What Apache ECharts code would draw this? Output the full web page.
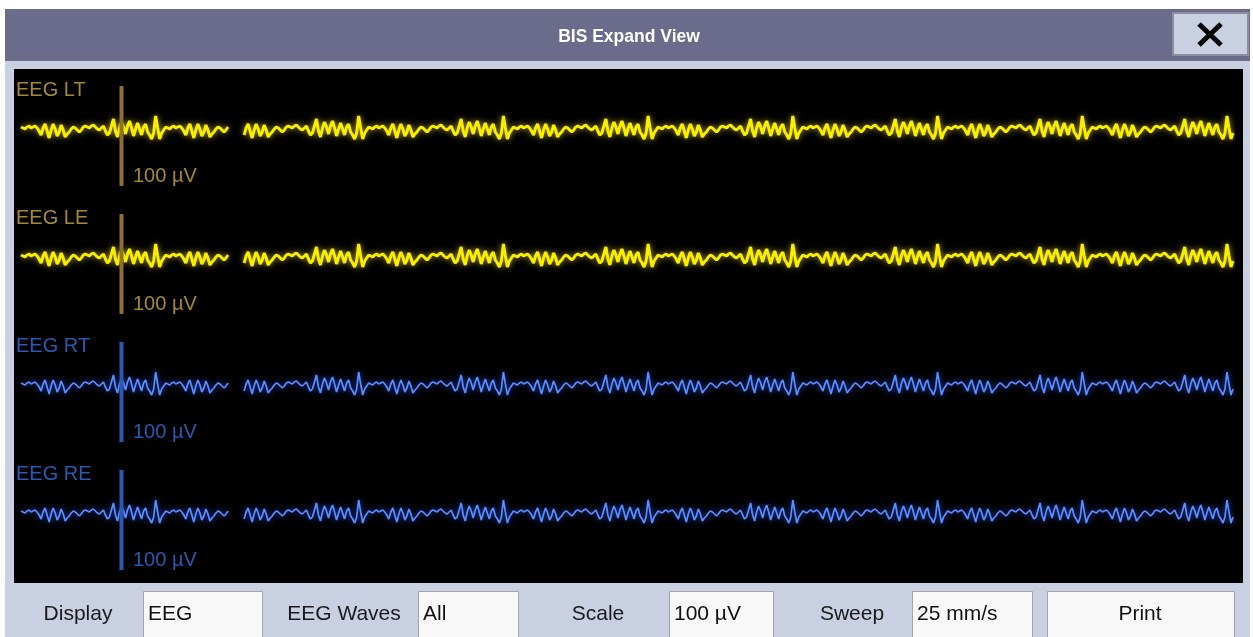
<!DOCTYPE html>
<html>
<head>
<meta charset="utf-8">
<title>BIS Expand View</title>
<script src="https://cdn.jsdelivr.net/npm/echarts@6/dist/echarts.min.js"></script>
<style>
  html, body { margin: 0; padding: 0; background: #fff; overflow: hidden; }
  #main { width: 1253px; height: 637px; }
</style>
</head>
<body>
<div id="main"></div>
<script>
// channels, top to bottom
var channelNames = ['EEG LT', 'EEG LE', 'EEG RT', 'EEG RE'];
var channelColors = ['yellow', 'yellow', 'blue', 'blue'];
var scaleText = '100 µV';

// EEG trace in µV, one sample every ~2 px.
// newest part of the sweep (left of the erase gap)
var sweepNew = [
  3,2,1,3,4,
  2,3,4,2,-1,-5,2,6,-1,-8,0,6,1,-6,-2,5,0,-7,-4,-2,1,3,2,0,-2,0,3,4,3,2,4,5,3,1,0,2,4,-1,-5,-3,4,11,-1,-7,2,8,3,-4,4,9,2,-6,1,7,1,-5,3,6,-2,-5,-9,-3,
  14,2,-9,-3,0,3,2,1,3,4,2,3,4,2,-1,-5,2,6,-1,-8,0,6,1,-6,-2,5,0,-7,-4,-2,1,3,2,0,-2,0,3
];
var gapSamples = 7;
// older part of the sweep (right of the erase gap)
var sweepOld = [
  -5,2,6,-1,-8,
  0,6,1,-6,-2,5,0,-7,-4,-2,1,3,2,0,-2,0,3,4,3,2,4,5,3,1,0,2,4,-1,-5,-3,4,11,-1,-7,2,8,3,-4,4,9,2,-6,1,7,1,-5,3,6,-2,-5,-9,-3,
  14,2,-9,-3,0,3,2,1,3,4,2,3,4,2,-1,-5,2,6,-1,-8,0,6,1,-6,-2,5,0,-7,-4,-2,1,3,2,0,-2,0,3,4,3,2,4,5,3,1,0,2,4,-1,-5,-3,4,11,-1,-7,2,8,3,-4,4,9,2,-6,1,7,1,-5,3,6,-2,-5,-9,-3,
  14,2,-9,-3,0,3,2,1,3,4,2,3,4,2,-1,-5,2,6,-1,-8,0,6,1,-6,-2,5,0,-7,-4,-2,1,3,2,0,-2,0,3,4,3,2,4,5,3,1,0,2,4,-1,-5,-3,4,11,-1,-7,2,8,3,-4,4,9,2,-6,1,7,1,-5,3,6,-2,-5,-9,-3,
  14,2,-9,-3,0,3,2,1,3,4,2,3,4,2,-1,-5,2,6,-1,-8,0,6,1,-6,-2,5,0,-7,-4,-2,1,3,2,0,-2,0,3,4,3,2,4,5,3,1,0,2,4,-1,-5,-3,4,11,-1,-7,2,8,3,-4,4,9,2,-6,1,7,1,-5,3,6,-2,-5,-9,-3,
  14,2,-9,-3,0,3,2,1,3,4,2,3,4,2,-1,-5,2,6,-1,-8,0,6,1,-6,-2,5,0,-7,-4,-2,1,3,2,0,-2,0,3,4,3,2,4,5,3,1,0,2,4,-1,-5,-3,4,11,-1,-7,2,8,3,-4,4,9,2,-6,1,7,1,-5,3,6,-2,-5,-9,-3,
  14,2,-9,-3,0,3,2,1,3,4,2,3,4,2,-1,-5,2,6,-1,-8,0,6,1,-6,-2,5,0,-7,-4,-2,1,3,2,0,-2,0,3,4,3,2,4,5,3,1,0,2,4,-1,-5,-3,4,11,-1,-7,2,8,3,-4,4,9,2,-6,1,7,1,-5,3,6,-2,-5,-9,-3,
  14,2,-9,-3,0,3,2,1,3,4,2,3,4,2,-1,-5,2,6,-1,-8,0,6,1,-6,-2,5,0,-7,-4,-2,1,3,2,0,-2,0,3,4,3,2,4,5,3,1,0,2,4,-1,-5,-3,4,11,-1,-7,2,8,3,-4,4,9,2,-6,1,7,1,-5,3,6,-2,-5,-9,-3,
  14,2,-9,-3
];
// 100 µV calibration bar: sample position and µV span
var barSample = 50;
var barSpan = [44, -56];

// bottom control row
var controlLabels = ['Display', 'EEG Waves', 'Scale', 'Sweep'];
var controlValues = ['EEG', 'All', '100 µV', '25 mm/s'];
var printText = 'Print';

var palette = {
  yellow: { wave: '#f8ee00', glow: '#b09c00', label: '#a3883a', bar: '#8e702c', width: 3 },
  blue: { wave: '#5d8eff', glow: '#1c44c4', label: '#2b59b0', bar: '#2c59b2', width: 1.7 }
};
var FONT = '"Liberation Sans", Arial, sans-serif';

// build the trace as [sample, µV] pairs with a break for the erase gap
var trace = [];
var n = 0;
sweepNew.forEach(function (v) { trace.push([n++, v]); });
for (var g = 0; g < gapSamples; g++) { trace.push([n++, null]); }
sweepOld.forEach(function (v) { trace.push([n++, v]); });
var lastSample = n - 1;

var grids = [], xAxes = [], yAxes = [], series = [], graphics = [];

function txt(text, x, y, size, color, align, weight) {
  return {
    type: 'text', z: 10, silent: true,
    style: {
      text: text, x: x, y: y, fill: color,
      font: (weight || 'normal') + ' ' + size + 'px ' + FONT,
      align: align || 'left', textAlign: align || 'left',
      verticalAlign: 'middle', textVerticalAlign: 'middle'
    }
  };
}
function box(x, y, w, h, fill, stroke, lw) {
  return {
    type: 'rect', silent: true,
    shape: { x: x, y: y, width: w, height: h },
    style: { fill: fill, stroke: stroke || null, lineWidth: lw || 0 }
  };
}

// window frame
graphics.push(box(5, 9, 1245, 628, '#c9d0e2'));
graphics.push(box(5, 9, 1245, 52, '#6b6b8b'));
graphics.push(box(14, 69, 1229, 514, '#000000'));
graphics.push(txt('BIS Expand View', 629, 37, 17.5, '#ffffff', 'center', 'bold'));
// close button
graphics.push(box(1173, 13, 75, 42, '#c9d0e2', '#8d8d9f', 2));
graphics.push({ type: 'line', silent: true, z: 10, shape: { x1: 1199, y1: 24, x2: 1221, y2: 45 }, style: { stroke: '#000', lineWidth: 5 } });
graphics.push({ type: 'line', silent: true, z: 10, shape: { x1: 1221, y1: 24, x2: 1199, y2: 45 }, style: { stroke: '#000', lineWidth: 5 } });

channelNames.forEach(function (name, k) {
  var c = palette[channelColors[k]];
  var mid = 130 + 128 * k;
  grids.push({ left: 21, width: 1212, top: mid - 64, height: 128 });
  xAxes.push({ type: 'value', gridIndex: k, min: 0, max: lastSample, show: false });
  yAxes.push({ type: 'value', gridIndex: k, min: -64, max: 64, show: false });
  series.push({
    type: 'line', xAxisIndex: k, yAxisIndex: k, data: trace,
    showSymbol: false, connectNulls: false, silent: true, z: 3,
    lineStyle: { color: c.wave, width: c.width, shadowColor: c.glow, shadowBlur: 6 }
  });
  series.push({
    type: 'line', xAxisIndex: k, yAxisIndex: k,
    data: [[barSample, barSpan[0]], [barSample, barSpan[1]]],
    showSymbol: false, silent: true, z: 4,
    lineStyle: { color: c.bar, width: 4, cap: 'butt' }
  });
  graphics.push(txt(name, 16, mid - 40, 20, c.label));
  graphics.push(txt(scaleText, 133, mid + 46, 20, c.label));
});

// bottom controls
var labelX = [78, 344, 598, 852];
var boxX = [143, 418, 669, 912];
var boxW = [119, 100, 104, 120];
controlLabels.forEach(function (label, i) {
  graphics.push(txt(label, labelX[i], 614, 21, '#1a1a1a', 'center'));
  graphics.push(box(boxX[i] + 0.5, 591.5, boxW[i], 50, '#f8f8f8', '#a4a4a8', 1));
  graphics.push(txt(controlValues[i], boxX[i] + 5, 614, 21, '#111111'));
});
graphics.push(box(1047.5, 591.5, 187, 50, '#f8f8f8', '#a4a4a8', 1));
graphics.push(txt(printText, 1140, 614, 21, '#111111', 'center'));

var chart = echarts.init(document.getElementById('main'), null, { renderer: 'canvas' });
chart.setOption({
  animation: false,
  backgroundColor: '#ffffff',
  graphic: { elements: graphics },
  grid: grids,
  xAxis: xAxes,
  yAxis: yAxes,
  series: series
});
</script>
</body>
</html>
